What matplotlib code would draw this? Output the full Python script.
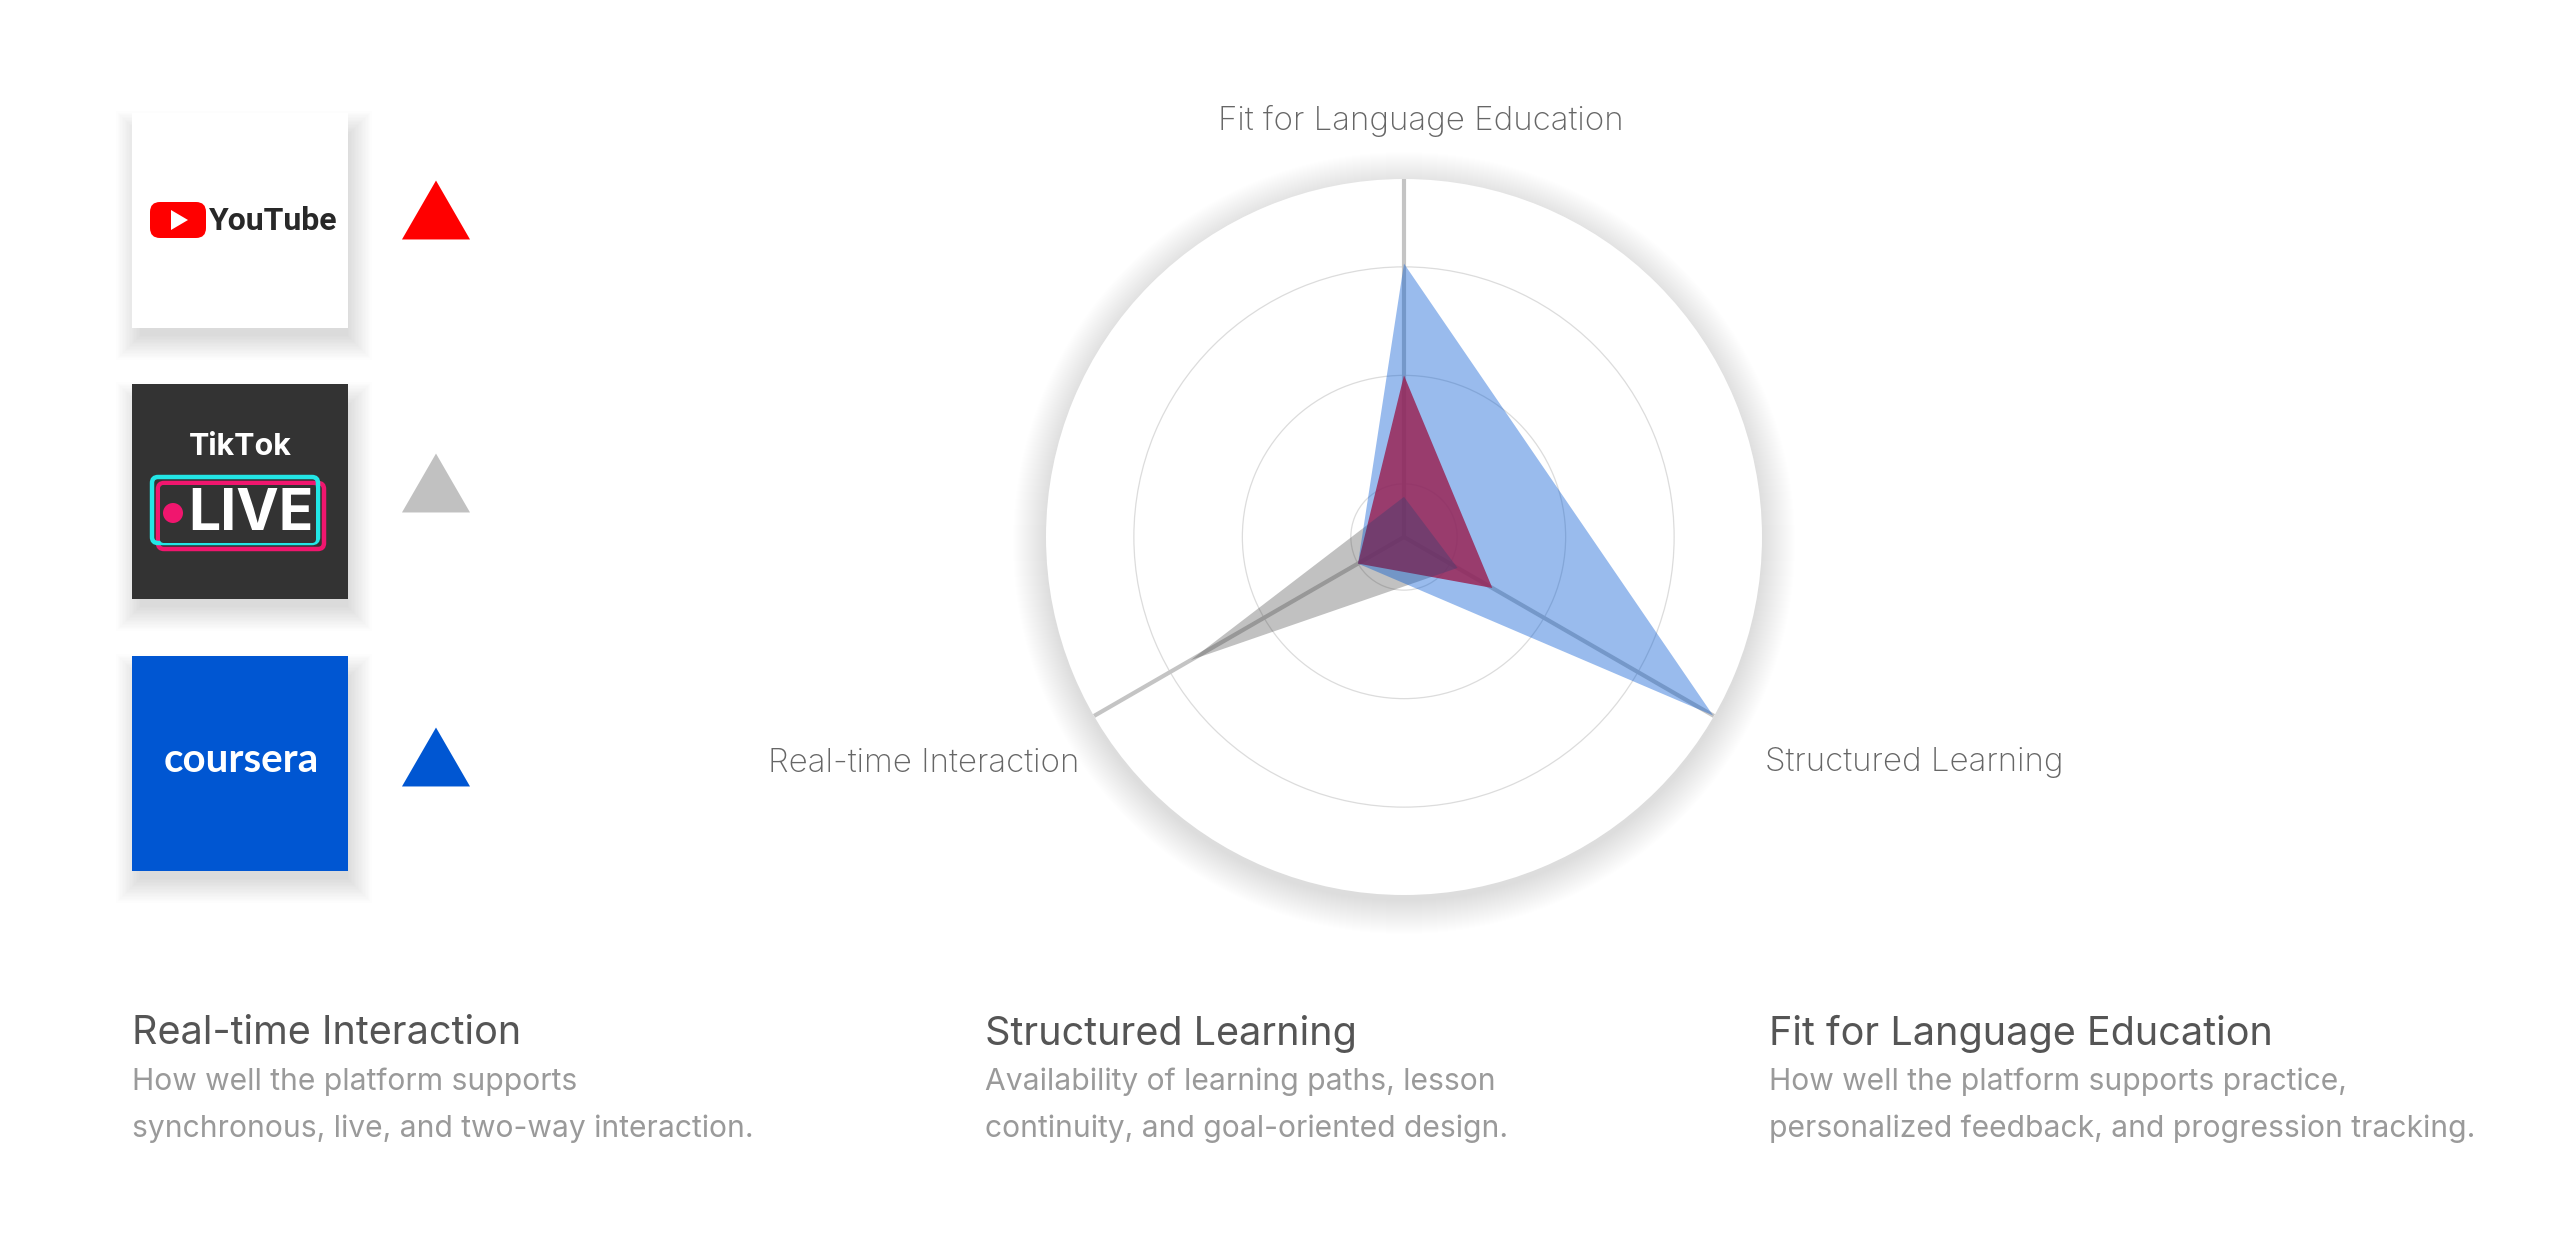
import numpy as np
import matplotlib.pyplot as plt
from matplotlib.patches import Rectangle, FancyBboxPatch, Circle, Polygon

# radar categories (clockwise from the top)
categories = ["Fit for Language Education", "Structured Learning", "Real-time Interaction"]

# scores (radial grid rings at 1, 2, 3)
youtube = [2.0, 1.45, 1.0]
tiktok = [0.88, 1.08, 2.78]
coursera = [3.03, 3.8, 1.0]

platforms = ["YouTube", "TikTok LIVE", "Coursera"]
platform_colors = ["#FF0000", "#333333", "#0056D2"]
platform_alpha = [0.83, 0.3, 0.4]
legend_colors = ["#FF0000", "#c1c1c1", "#0056D2"]

# explanation blocks under the chart
block_titles = ["Real-time Interaction", "Structured Learning", "Fit for Language Education"]
block_lines = [
    ["How well the platform supports", "synchronous, live, and two-way interaction."],
    ["Availability of learning paths, lesson", "continuity, and goal-oriented design."],
    ["How well the platform supports practice,", "personalized feedback, and progression tracking."],
]

W, H = 2560, 1248
fig = plt.figure(figsize=(W / 100, H / 100), dpi=100)
fig.patch.set_facecolor("white")

# pixel space overlay for cards, legend and texts
bg = fig.add_axes([0, 0, 1, 1], zorder=0)
bg.set_xlim(0, W)
bg.set_ylim(H, 0)
bg.axis("off")

FONT = ["Inter", "DejaVu Sans"]


def card(x0, y0, w, h, color):
    # soft drop shadow, mostly below the card
    for i in range(18):
        pad = i * 1.4
        bg.add_patch(Rectangle((x0 - pad + 8, y0 - pad + 22), w + 2 * pad - 8, h + 2 * pad - 14,
                               color="black", alpha=0.007, lw=0))
    bg.add_patch(Rectangle((x0, y0), w, h, color=color, lw=0))


card_x, card_w = 132, 216
card_y = [113, 384, 656]
for y0, c in zip(card_y, ["white", "#333333", "#0056D2"]):
    card(card_x, y0, card_w, 215, c)

# YouTube logo
bg.add_patch(FancyBboxPatch((150, 202), 56, 36, boxstyle="round,pad=0,rounding_size=10",
                            color="#FF0000", lw=0))
bg.add_patch(Polygon([(171, 210), (171, 230), (188, 220)], closed=True, color="white", lw=0))
bg.text(209, 221, "YouTube", ha="left", va="center", fontsize=23, fontweight="bold",
        color="#282828", family=["Roboto", "DejaVu Sans"])

# TikTok LIVE logo
bg.text(240, 447, "TikTok", ha="center", va="center", fontsize=22, fontweight="bold",
        color="white", family=FONT)
bg.add_patch(FancyBboxPatch((158, 483), 166, 66, boxstyle="round,pad=0,rounding_size=6",
                            fc="none", ec="#F0166E", lw=3.2))
bg.add_patch(FancyBboxPatch((152, 477), 166, 66, boxstyle="round,pad=0,rounding_size=6",
                            fc="none", ec="#22E6E6", lw=3.2))
bg.add_patch(FancyBboxPatch((160, 485), 156, 58, boxstyle="round,pad=0,rounding_size=4",
                            fc="#333333", ec="none", lw=0))
bg.add_patch(Circle((173, 513), 10, color="#F0166E", lw=0))
bg.text(251, 515, "LIVE", ha="center", va="center", fontsize=41, fontweight="bold",
        color="white", family=FONT)

# Coursera logo
bg.text(241, 760, "coursera", ha="center", va="center", fontsize=29, fontweight="bold",
        color="white", family=["Lato", "DejaVu Sans"])

# legend triangles
tri = [(-1, -0.866), (1, -0.866), (0, 0.866)]
bg.scatter([436] * 3, [210, 483, 757], marker=tri, s=49 ** 2, c=legend_colors, lw=0)

# radar disk with a soft shadow
cx, cy, R = 1404, 537, 358
for i in range(34):
    bg.add_patch(Circle((cx, cy + 6), R + i, color="black", alpha=0.0026, lw=0))

pax = fig.add_axes([(cx - R) / W, (H - cy - R) / H, 2 * R / W, 2 * R / H],
                   projection="polar", zorder=2)
pax.set_theta_offset(np.pi / 2)
pax.set_theta_direction(-1)
rmin, rmax = 0.51, 3.81
pax.set_ylim(rmin, rmax)
pax.set_yticks([1, 2, 3])
pax.set_yticklabels([])
pax.set_xticks([])
pax.yaxis.grid(True, color="#dcdcdc", lw=0.9)
pax.spines["polar"].set_visible(False)
pax.set_facecolor("white")
pax.set_axisbelow(True)

angles = np.linspace(0, 2 * np.pi, len(categories), endpoint=False)
for a in angles:
    pax.plot([a, a], [rmin, rmax], color="#c4c4c4", lw=3, solid_capstyle="butt", zorder=1)

closed = np.append(angles, angles[0])
for vals, col, al, z in zip([youtube, tiktok, coursera], platform_colors, platform_alpha, [2, 3, 4]):
    pax.fill(closed, vals + vals[:1], color=col, alpha=al, lw=0, zorder=z)

# axis labels
label_pos = [(1421, 121, "center"), (1765, 763, "left"), (1079, 763, "right")]
for name, (x, y, ha) in zip(categories, label_pos):
    bg.text(x, y, name, ha=ha, va="center", fontsize=23.8, color="#666666",
            fontweight="light", family=FONT)

# explanation blocks
block_x = [132, 985, 1769]
for x, t, lines in zip(block_x, block_titles, block_lines):
    bg.text(x, 1034, t, ha="left", va="center", fontsize=28.5, color="#555555", family=FONT)
    for k, ln in enumerate(lines):
        bg.text(x, 1082 + 47 * k, ln, ha="left", va="center", fontsize=21.6,
                color="#9a9a9a", family=FONT)

fig.savefig("out.png", dpi=100, facecolor="white")
